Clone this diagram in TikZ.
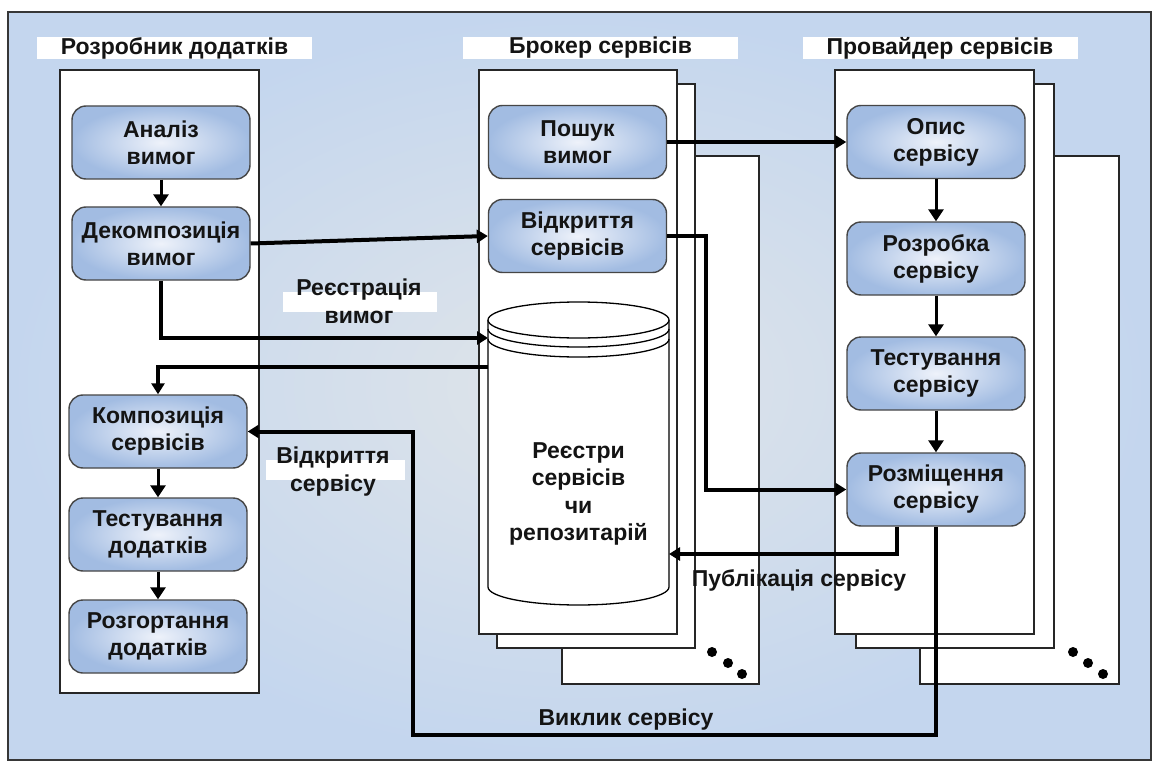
\documentclass[tikz,border=0pt]{standalone}
\usepackage{fontspec}
\setmainfont{Liberation Sans}
\usetikzlibrary{arrows.meta}
\definecolor{bgin}{RGB}{224,229,233}
\definecolor{bgout}{RGB}{196,214,238}
\definecolor{framec}{RGB}{55,55,55}
\definecolor{taskin}{RGB}{238,242,250}
\definecolor{taskout}{RGB}{162,188,226}
\definecolor{taskline}{RGB}{70,70,70}
\definecolor{ink}{RGB}{20,20,20}
\begin{document}
\begin{tikzpicture}[x=1pt,y=-1pt,
  every node/.style={font=\bfseries\fontsize{23}{27}\selectfont, text=ink, inner sep=0pt},
  panel/.style={draw=black!85, line width=1.6pt, fill=white},
  hdr/.style={fill=white, minimum width=275pt, minimum height=22pt},
  task/.style={draw=taskline, line width=1.4pt, rounded corners=14pt,
    inner color=taskin, outer color=taskout,
    minimum width=178pt, minimum height=73pt, align=center},
  seq/.style={line width=3pt, -{Triangle[length=12pt,width=15pt]}},
  flow/.style={line width=4pt, -{Triangle[length=11pt,width=13pt]}},
  cyl/.style={draw=black, line width=1.3pt},
  lbl/.style={align=center, font=\bfseries\fontsize{23}{28}\selectfont},
  dot/.style={fill=black}
]
\useasboundingbox (0,0) rectangle (1152,765);
\fill[white] (0,0) rectangle (1152,765);
% shaded outer frame
\shade[inner color=bgin, outer color=bgout] (8,12) rectangle (1151,760);
\draw[framec, line width=1.5pt] (8,12) rectangle (1151,760);

% swimlane panels (back sheets first)
\draw[panel] (60,70) rectangle (259,693);
\draw[panel] (562,156) rectangle (759,684);
\draw[panel] (497,84) rectangle (695,648);
\draw[panel] (479,70) rectangle (677,634);
\draw[panel] (920,156) rectangle (1119,684);
\draw[panel] (856,84) rectangle (1054,648);
\draw[panel] (835,70) rectangle (1034,634);

% continuation dots
\foreach \px/\py in {712/652, 728/663, 742/674, 1073/652, 1088/663, 1103/674}
  \fill[dot] (\px,\py) circle[radius=5];

% lane headings
\node[hdr] (hdev) at (174.5,48) {Розробник додатків};
\node[hdr] (hbrk) at (600.5,48) {Брокер сервісів};
\node[hdr] (hprv) at (940,48) {Провайдер сервісів};

% application developer tasks
\node[task] (an)  at (161,142.5) {Аналіз\\вимог};
\node[task] (dec) at (161,243.5) {Декомпозиція\\вимог};
\node[task] (kom) at (158,431.5) {Композиція\\сервісів};
\node[task] (tes) at (158,534.5) {Тестування\\додатків};
\node[task] (roz) at (158,636.5) {Розгортання\\додатків};

% broker tasks
\node[task] (pos) at (577.5,142) {Пошук\\вимог};
\node[task] (vid) at (577.5,236) {Відкриття\\сервісів};

% provider tasks
\node[task] (opy) at (936,142) {Опис\\сервісу};
\node[task] (rzr) at (936,258.5) {Розробка\\сервісу};
\node[task] (tst) at (936,373.5) {Тестування\\сервісу};
\node[task] (rzm) at (936,489.5) {Розміщення\\сервісу};

% registry cylinder
\fill[white] (488,320) -- (488,587)
  .. controls (488,597) and (528.5,605) .. (578.5,605)
  .. controls (628.5,605) and (669,597) .. (669,587) -- (669,320) -- cycle;
\draw[cyl] (488,320) -- (488,587)
  .. controls (488,597) and (528.5,605) .. (578.5,605)
  .. controls (628.5,605) and (669,597) .. (669,587) -- (669,320);
\draw[cyl, fill=white] (578.5,320) ellipse [x radius=90.5, y radius=18];
\foreach \cy in {329,339}
  \draw[cyl] (488,\cy) .. controls (488,\cy+10) and (528.5,\cy+18) .. (578.5,\cy+18)
    .. controls (628.5,\cy+18) and (669,\cy+10) .. (669,\cy);
\node[align=center, font=\bfseries\fontsize{23}{27.5}\selectfont] (cyltxt) at (578.5,494)
  {Реєстри\\сервісів\\чи\\репозитарій};
\coordinate (cin)  at (488,338);
\coordinate (cout) at (488,367);
\coordinate (cpub) at (669,554);
\coordinate (callturn) at (413,735);

% flow within lanes
\draw[seq] (an) -- (dec);
\draw[seq] (kom) -- (tes);
\draw[seq] (tes) -- (roz);
\draw[seq] (opy) -- (rzr);
\draw[seq] (rzr) -- (tst);
\draw[seq] (tst) -- (rzm);

% interactions between lanes
\draw[flow] (dec.east) -- (vid.west);
\draw[flow] (dec.south) |- (cin);
\draw[flow] (cout) -| (kom.north);
\draw[flow] (pos.east) -- (opy.west);
\draw[flow] (vid.east) -- ++(39,0) |- (rzm.west);
\draw[flow] ([xshift=-39pt]rzm.south) |- (cpub);
\draw[flow] (rzm.south) |- (callturn) |- (kom.east);

% connector labels
\fill[white] (283,292) rectangle (437,312);
\node[lbl] (lreg) at (359,301) {Реєстрація\\вимог};
\fill[white] (266,460) rectangle (405,480);
\node[lbl] (lvid) at (333,472) {Відкриття\\сервісу};
\node (lpub) at (799,580) {Публікація сервісу};
\node (lcall) at (626,720) {Виклик сервісу};
\end{tikzpicture}
\end{document}
